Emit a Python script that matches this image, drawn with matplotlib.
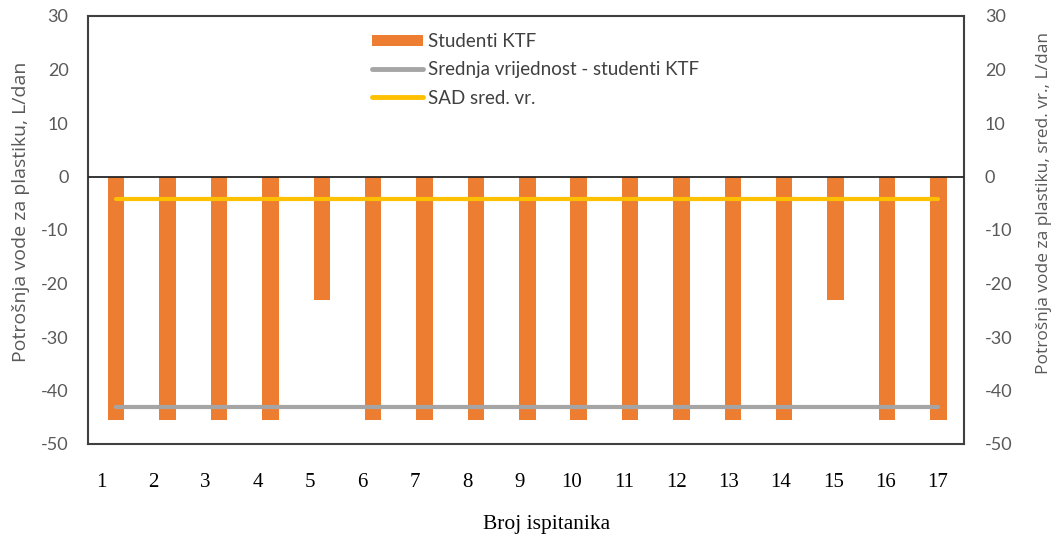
import matplotlib
matplotlib.use("Agg")
import matplotlib.pyplot as plt
from matplotlib.patches import Patch
from matplotlib.lines import Line2D
import numpy as np

# ---- data ----
respondents = list(range(1, 18))
tick_labels = [str(i) for i in respondents]
studenti_ktf = [-45.5, -45.5, -45.5, -45.5, -23, -45.5, -45.5, -45.5, -45.5,
                -45.5, -45.5, -45.5, -45.5, -45.5, -23, -45.5, -45.5]
srednja_ktf = [-43.0] * 17
sad_sred = [-4.2] * 17
y_ticks = [30, 20, 10, 0, -10, -20, -30, -40, -50]

ORANGE = "#ED7D31"
GRAY = "#A5A5A5"
YELLOW = "#FFC000"
TXT = "#595959"

W, H = 1063, 545
fig = plt.figure(figsize=(W/100, H/100), dpi=100)
ax = fig.add_axes([88/W, 1-444/H, (964-88)/W, (444-16)/H])

ax.bar(respondents, studenti_ktf, width=0.32, color=ORANGE, zorder=2)
ax.set_xlim(0.45, 17.5)
ax.set_ylim(-50, 30)
ax.set_yticks(y_ticks)
ax.set_yticklabels([str(v) for v in y_ticks], fontfamily="Lato", fontsize=13, color=TXT)
ax.tick_params(axis="y", length=0, pad=14)
ax.set_xticks([])
ax.axhline(0, color="#262626", linewidth=1.3, zorder=3)
for s in ax.spines.values():
    s.set_color("#404040")
    s.set_linewidth(1.5)

ax2 = ax.twinx()
ax2.set_ylim(-50, 30)
ax2.plot(respondents, srednja_ktf, color=GRAY, linewidth=3, solid_capstyle="round", zorder=4)
ax2.plot(respondents, sad_sred, color=YELLOW, linewidth=3, solid_capstyle="round", zorder=4)
ax2.set_yticks(y_ticks)
ax2.set_yticklabels([str(v) for v in y_ticks], fontfamily="Lato", fontsize=13, color=TXT)
ax2.tick_params(axis="y", length=0, pad=15)
for s in ax2.spines.values():
    s.set_visible(False)

fig.text(21/W, 1-212/H, "Potrošnja vode za plastiku, L/dan", rotation=90,
         ha="center", va="center", fontfamily="Open Sans", fontsize=14, color=TXT)
fig.text(1044/W, 1-203/H, "Potrošnja vode za plastiku, sred. vr., L/dan", rotation=90,
         ha="center", va="center", fontfamily="Open Sans", fontsize=12.5, color=TXT)

# separate x tick labels (text row below the plot)
ax3 = ax.twiny()
ax3.set_xlim(0.75, 17.5)
ax3.xaxis.set_ticks_position("bottom")
ax3.set_xticks(respondents)
ax3.set_xticklabels(tick_labels, fontfamily="Liberation Serif", fontsize=15, color="black")
ax3.tick_params(axis="x", length=0, pad=21)
for s in ax3.spines.values():
    s.set_visible(False)

fig.text(547/W, 1-525/H, "Broj ispitanika", ha="center", va="center",
         fontfamily="Liberation Serif", fontsize=15.5, color="black")

handles = [Patch(facecolor=ORANGE, edgecolor="none"),
           Line2D([], [], color=GRAY, linewidth=3.5, solid_capstyle="round"),
           Line2D([], [], color=YELLOW, linewidth=3.5, solid_capstyle="round")]
labels = ["Studenti KTF", "Srednja vrijednost - studenti KTF", "SAD sred. vr."]
leg = fig.legend(handles, labels, loc="upper left", bbox_to_anchor=(372/W, 1-33/H),
                 frameon=False, prop={"family": "Lato", "size": 13.5},
                 handlelength=2.7, handleheight=0.55, labelspacing=0.6, handletextpad=0.3,
                 borderaxespad=0, borderpad=0)
for t in leg.get_texts():
    t.set_color("#404040")

fig.savefig("out.png", dpi=100)
